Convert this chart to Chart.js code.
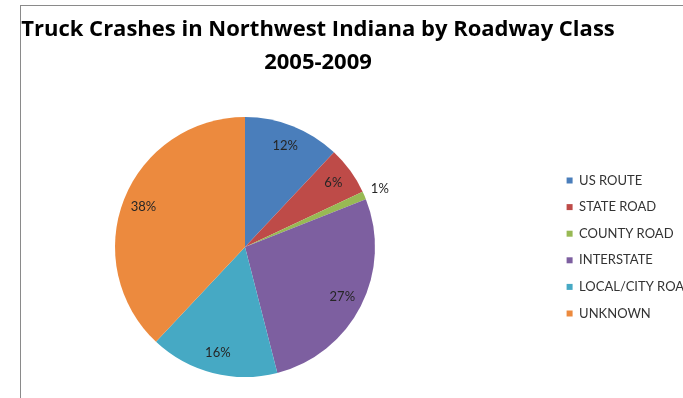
<!DOCTYPE html>
<html>
<head>
<meta charset="utf-8">
<script src="https://cdn.jsdelivr.net/npm/chart.js@4/dist/chart.umd.min.js"></script>
<style>
  html, body { margin: 0; padding: 0; background: #fff; }
  body { width: 683px; height: 398px; overflow: hidden; position: relative; }
  #frame {
    position: absolute; left: 20px; top: 5px; right: -2px; bottom: -2px;
    border-left: 1px solid #8a8a8a; border-top: 1px solid #8a8a8a;
  }
  /* the canvas runs a little past both edges so the legend sits close to the right side */
  #crashChart { position: absolute; left: -63px; top: 0; }
</style>
</head>
<body>
<div id="frame"></div>
<canvas id="crashChart" width="762" height="398"></canvas>
<script>
(function () {
var roadClasses = ['US ROUTE', 'STATE ROAD', 'COUNTY ROAD', 'INTERSTATE', 'LOCAL/CITY ROAD', 'UNKNOWN'];
var crashShare = [12, 6, 1, 27, 16, 38];
var sliceColors = ['#4a7ebb', '#be4b48', '#98b954', '#7d5fa0', '#46a9c4', '#ec8a3e'];
var titleLines = ['Truck Crashes in Northwest Indiana by Roadway Class', '2005-2009'];

// percent labels: inside the slice, or just outside when the slice is tiny
var percentLabels = {
  id: 'percentLabels',
  afterDatasetsDraw: function (chart) {
    var ctx = chart.ctx;
    var meta = chart.getDatasetMeta(0);
    var total = crashShare.reduce(function (a, b) { return a + b; }, 0);
    ctx.save();
    ctx.font = '13px Lato';
    ctx.fillStyle = '#262626';
    ctx.textAlign = 'center';
    ctx.textBaseline = 'middle';
    meta.data.forEach(function (arc, i) {
      var p = arc.getProps(['x', 'y', 'startAngle', 'endAngle', 'outerRadius'], true);
      var mid = (p.startAngle + p.endAngle) / 2;
      var pct = Math.round(crashShare[i] / total * 100);
      var dist = pct < 3 ? p.outerRadius * 1.13 : p.outerRadius * 0.84;
      ctx.fillText(pct + '%', p.x + Math.cos(mid) * dist, p.y + Math.sin(mid) * dist);
    });
    ctx.restore();
  }
};

var ctx = document.getElementById('crashChart');
var crashChart = new Chart(ctx, {
  type: 'pie',
  data: {
    labels: roadClasses,
    datasets: [{
      data: crashShare,
      backgroundColor: sliceColors,
      borderWidth: 0
    }]
  },
  options: {
    responsive: false,
    animation: false,
    layout: {
      padding: { left: 0, right: 0, top: 0, bottom: 21 }
    },
    plugins: {
      title: {
        display: true,
        text: titleLines,
        color: '#000000',
        font: { family: '"Open Sans"', size: 22, weight: 'bold', lineHeight: 1.5 },
        padding: { top: 13.5, bottom: 37.5 }
      },
      legend: {
        position: 'right',
        fullSize: false,
        maxWidth: 146,
        labels: {
          boxWidth: 6,
          boxHeight: 6,
          padding: 13.6,
          color: '#333333',
          font: { family: 'Lato', size: 13 }
        }
      },
      tooltip: { enabled: false }
    }
  },
  plugins: [percentLabels]
});
})();
</script>
</body>
</html>
